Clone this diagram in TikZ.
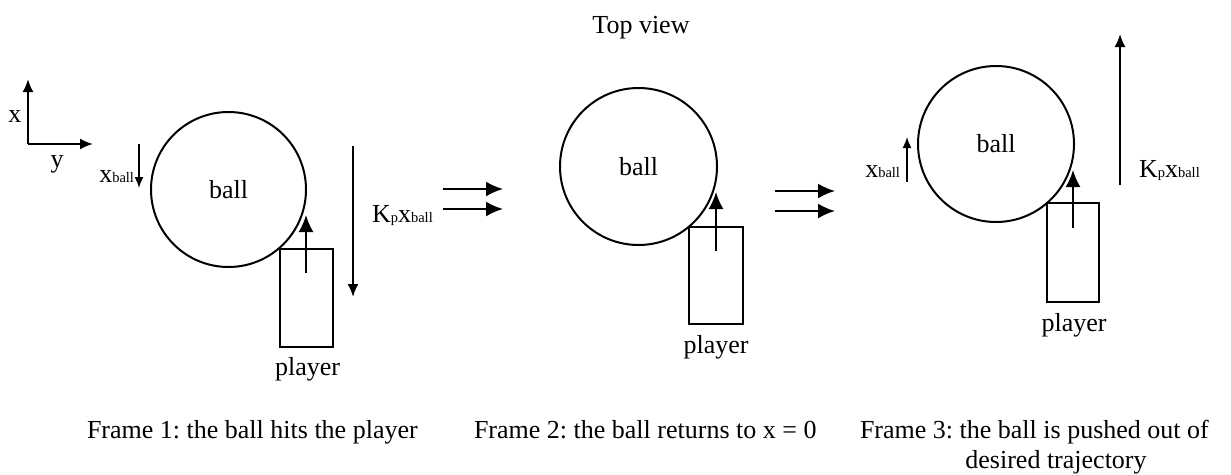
\documentclass[tikz,border=0pt]{standalone}
\usepackage{fontspec}
\setmainfont{Liberation Serif}
\usetikzlibrary{arrows.meta}
\newcommand\smallsub[1]{{\fontsize{14.5}{15}\selectfont #1}}
\frenchspacing
\begin{document}
\begin{tikzpicture}[x=1pt,y=-1pt,
  line width=2pt,
  every node/.style={font=\fontsize{26}{30}\selectfont\frenchspacing, inner sep=0pt, outer sep=0pt},
  ballc/.style={draw, circle, minimum size=#1},
  playerbox/.style={draw, rectangle, minimum width=53pt, minimum height=98pt},
  bigarrow/.style={-{Latex[length=17pt,width=15pt]}},
  smallarrow/.style={-{Latex[length=13pt,width=11pt]}},
  tinyarrow/.style={line width=1.6pt,-{Latex[length=11pt,width=9pt]}}
]
\useasboundingbox (0,0) rectangle (1231,474);

\node[anchor=base] (title) at (641,33) {Top view};

% axes
\coordinate (o) at (28,144);
\coordinate (xt) at (28,79);
\coordinate (yt) at (93,144);
\draw[smallarrow] (o) -- (xt);
\draw[smallarrow] (o) -- (yt);
\node[anchor=base] (xl) at (15,122) {x};
\node[anchor=base] (yl) at (57,167) {y};

% ---------- Frame 1
\node[ballc=155pt] (b1) at (228.5,189.5) {ball};
\node[playerbox] (p1) at (306.5,298) {};
\node[anchor=base] (pl1) at (307.5,375) {player};
\coordinate (a1s) at (306,273);
\coordinate (a1e) at (306,215);
\draw[bigarrow] (a1s) -- (a1e);
\coordinate (xb1s) at (139,144);
\coordinate (xb1e) at (139,188);
\draw[tinyarrow] (xb1s) -- (xb1e);
\node[anchor=base east] (xbl1) at (134,182) {x\smallsub{ball}};
\coordinate (k1s) at (353,146);
\coordinate (k1e) at (353,297);
\draw[smallarrow] (k1s) -- (k1e);
\node[anchor=base west] (kl1) at (372,222) {K\smallsub{p}x\smallsub{ball}};

% double arrows 1 -> 2
\coordinate (d1as) at (443,189);
\coordinate (d1ae) at (503,189);
\coordinate (d1bs) at (443,209);
\coordinate (d1be) at (503,209);
\draw[bigarrow] (d1as) -- (d1ae);
\draw[bigarrow] (d1bs) -- (d1be);

% ---------- Frame 2
\node[ballc=157pt] (b2) at (638.5,166.5) {ball};
\node[playerbox, minimum width=54pt, minimum height=97pt] (p2) at (716,275.5) {};
\node[anchor=base] (pl2) at (716,353) {player};
\coordinate (a2s) at (716,251);
\coordinate (a2e) at (716,192);
\draw[bigarrow] (a2s) -- (a2e);

% double arrows 2 -> 3
\coordinate (d2as) at (775,191);
\coordinate (d2ae) at (835,191);
\coordinate (d2bs) at (775,211);
\coordinate (d2be) at (835,211);
\draw[bigarrow] (d2as) -- (d2ae);
\draw[bigarrow] (d2bs) -- (d2be);

% ---------- Frame 3
\node[ballc=156pt] (b3) at (996,144) {ball};
\node[playerbox, minimum width=52pt, minimum height=99pt] (p3) at (1073,252.5) {};
\node[anchor=base] (pl3) at (1074,331) {player};
\coordinate (a3s) at (1073,228);
\coordinate (a3e) at (1073,170);
\draw[bigarrow] (a3s) -- (a3e);
\coordinate (xb3s) at (907,182);
\coordinate (xb3e) at (907,137);
\draw[tinyarrow] (xb3s) -- (xb3e);
\node[anchor=base east] (xbl3) at (900,177) {x\smallsub{ball}};
\coordinate (k3s) at (1120,185);
\coordinate (k3e) at (1120,34);
\draw[smallarrow] (k3s) -- (k3e);
\node[anchor=base west] (kl3) at (1139,177) {K\smallsub{p}x\smallsub{ball}};

% captions
\node[anchor=base west] (c1) at (87,438) {Frame 1: the ball hits the player};
\node[anchor=base west] (c2) at (474,438) {Frame 2: the ball returns to x = 0};
\node[anchor=base west] (c3) at (860,438) {Frame 3: the ball is pushed out of};
\node[anchor=base] (c3b) at (1056,468) {desired trajectory};
\end{tikzpicture}
\end{document}
